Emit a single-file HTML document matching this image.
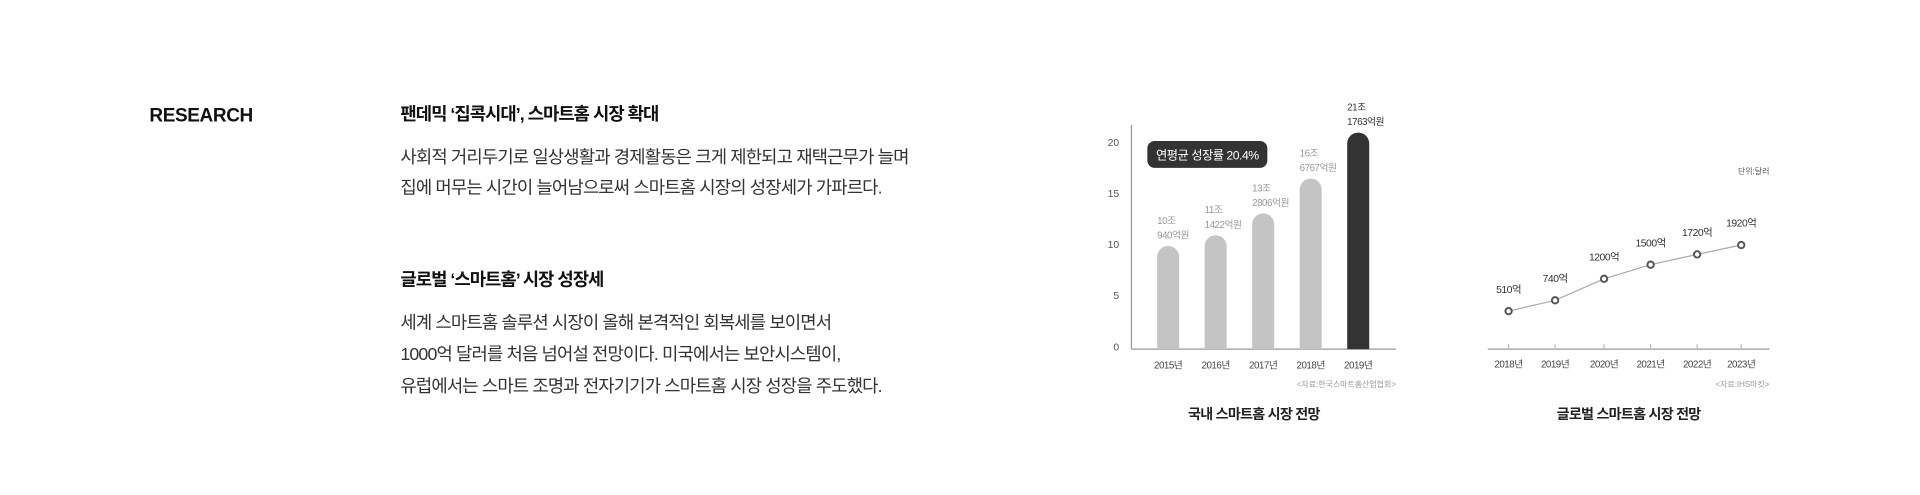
<!DOCTYPE html>
<html><head><meta charset="utf-8">
<style>
html,body{margin:0;padding:0;background:#fff;width:1920px;height:495px;overflow:hidden}
svg{display:block;font-family:"Liberation Sans","Noto Sans CJK KR",sans-serif}
</style></head>
<body>
<svg id="root" width="1920" height="495" viewBox="0 0 1568 404">
  <text x="122" y="99" font-size="15.5" font-weight="bold" fill="#111" letter-spacing="-0.3">RESEARCH</text>
  <g fill="#333" font-size="14.5">
    <text x="327" y="98" font-size="14.5" font-weight="bold" fill="#111" letter-spacing="-0.8">팬데믹 ‘집콕시대’, 스마트홈 시장 확대</text>
    <text x="327" y="133" letter-spacing="-0.7">사회적 거리두기로 일상생활과 경제활동은 크게 제한되고 재택근무가 늘며</text>
    <text x="327" y="158" letter-spacing="-0.7">집에 머무는 시간이  늘어남으로써 스마트홈 시장의 성장세가 가파르다.</text>
    <text x="327" y="233" font-size="14.5" font-weight="bold" fill="#111" letter-spacing="-0.8">글로벌 ‘스마트홈’ 시장 성장세</text>
    <text x="327" y="268" letter-spacing="-0.7">세계 스마트홈 솔루션 시장이 올해 본격적인 회복세를 보이면서</text>
    <text x="327" y="294" letter-spacing="-0.7">1000억 달러를 처음 넘어설 전망이다. 미국에서는 보안시스템이,</text>
    <text x="327" y="320" letter-spacing="-0.7">유럽에서는 스마트 조명과 전자기기가 스마트홈 시장 성장을 주도했다.</text>
  </g>
  <g id="bar-chart"></g>
  <g id="line-chart"></g>
</svg>
<script>
// Bar chart data
const barYears = ["2015년","2016년","2017년","2018년","2019년"];
const barValues = [10.09, 11.14, 13.28, 16.68, 21.18];
const barLabelTop = ["10조","11조","13조","16조","21조"];
const barLabelBottom = ["940억원","1422억원","2806억원","6767억원","1763억원"];
const barTicks = [0,5,10,15,20];
// Line chart data
const lineYears = ["2018년","2019년","2020년","2021년","2022년","2023년"];
const lineValues = [510, 740, 1200, 1500, 1720, 1920];
const lineLabels = ["510억","740억","1200억","1500억","1720억","1920억"];

const NS = "http://www.w3.org/2000/svg";
function mk(parent, tag, attrs, text){
  const e = document.createElementNS(NS, tag);
  for (const k in attrs) e.setAttribute(k, attrs[k]);
  if (text !== undefined) e.textContent = text;
  parent.appendChild(e);
  return e;
}

// ---- Bar chart ----
const bc = document.getElementById('bar-chart');
const bx0 = 924, bx1 = 1140, by0 = 285;
const byScale = v => 283 - v * 8.35 + 2;
const bxPos = i => 954 + i * 38.8;
let el;
el = mk(bc,'line',{x1:bx0,y1:102,x2:bx0,y2:by0,stroke:'#999','stroke-width':1});


el = mk(bc,'line',{x1:bx0,y1:by0,x2:bx1,y2:by0,stroke:'#999','stroke-width':1});


barTicks.forEach(t=>{
  const e = mk(bc,'text',{x:914,y:byScale(t)+1,'font-size':8.5,fill:'#555','text-anchor':'end'},String(t));
  
  
});
barValues.forEach((v,i)=>{
  const cx = bxPos(i), w = 18, top = byScale(v), last = i === barValues.length-1;
  const col = last ? '#333' : '#c4c4c4';
  const r = w/2;
  const p = mk(bc,'path',{d:`M${cx-r},${by0} L${cx-r},${top+r} A${r},${r} 0 0 1 ${cx+r},${top+r} L${cx+r},${by0} Z`,fill:col});
  
  
  const lc = last ? '#333' : '#999';
  const t1 = mk(bc,'text',{x:cx-9,y:top-18,'font-size':8,fill:lc,'letter-spacing':-0.4},barLabelTop[i]);
  
  
  const t2 = mk(bc,'text',{x:cx-9,y:top-6,'font-size':8,fill:lc,'letter-spacing':-0.4},barLabelBottom[i]);
  
  
  const t3 = mk(bc,'text',{x:cx,y:301,'font-size':8,fill:'#444','text-anchor':'middle','letter-spacing':-0.4},barYears[i]);
  
  
});
el = mk(bc,'rect',{x:937,y:115,width:98,height:22,rx:6,fill:'#333'});


el = mk(bc,'text',{x:986,y:130,'font-size':10,fill:'#fff','text-anchor':'middle','letter-spacing':-0.4},'연평균 성장률  20.4%');


el = mk(bc,'text',{x:1140,y:316,'font-size':6.5,fill:'#999','text-anchor':'end'},'<자료:한국스마트홈산업협회>');


el = mk(bc,'text',{x:1024,y:342,'font-size':11.5,'font-weight':'bold',fill:'#222','text-anchor':'middle','letter-spacing':-0.6},'국내 스마트홈 시장 전망');



// ---- Line chart ----
const lc = document.getElementById('line-chart');
const lxPos = [1232,1270,1310,1348,1386,1422];
const lyScale = v => 273.5 - v * 0.0383;
el = mk(lc,'line',{x1:1215,y1:285,x2:1445,y2:285,stroke:'#999','stroke-width':1});


const pts = lineValues.map((v,i)=>lxPos[i]+','+lyScale(v)).join(' ');
el = mk(lc,'polyline',{points:pts,fill:'none',stroke:'#aaa','stroke-width':1});


lineValues.forEach((v,i)=>{
  const x = lxPos[i], y = lyScale(v);
  const tk = mk(lc,'line',{x1:x,y1:281,x2:x,y2:285,stroke:'#bbb','stroke-width':1});
  
  
  const c = mk(lc,'circle',{cx:x,cy:y,r:2.6,fill:'#fff',stroke:'#555','stroke-width':1.6});
  
  
  const t = mk(lc,'text',{x:x,y:y-15,'font-size':8.5,fill:'#333','text-anchor':'middle','letter-spacing':-0.4},lineLabels[i]);
  
  
  const ty = mk(lc,'text',{x:x,y:300,'font-size':8,fill:'#444','text-anchor':'middle','letter-spacing':-0.4},lineYears[i]);
  
  
});
el = mk(lc,'text',{x:1445,y:142,'font-size':6.5,fill:'#555','text-anchor':'end'},'단위:달러');


el = mk(lc,'text',{x:1445,y:316,'font-size':6.5,fill:'#999','text-anchor':'end'},'<자료:IHS마킷>');


el = mk(lc,'text',{x:1330,y:342,'font-size':11.5,'font-weight':'bold',fill:'#222','text-anchor':'middle','letter-spacing':-0.6},'글로벌 스마트홈 시장 전망');


</script>
</body></html>
